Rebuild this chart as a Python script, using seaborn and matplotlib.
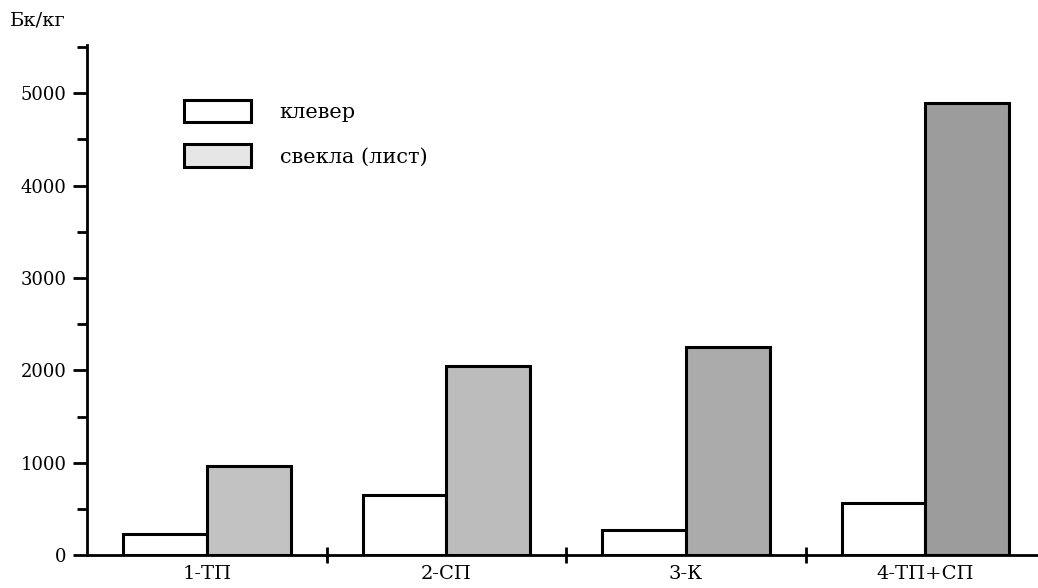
import seaborn as sns
import pandas as pd
import matplotlib.pyplot as plt
from matplotlib.ticker import MultipleLocator, FixedLocator

# data
sites = ["1-ТП", "2-СП", "3-К", "4-ТП+СП"]
series = ["клевер", "свекла (лист)"]
clover = [230, 650, 270, 560]
beet_leaf = [960, 2050, 2250, 4890]

df = pd.DataFrame({
    "site": sites * 2,
    "crop": [series[0]] * len(sites) + [series[1]] * len(sites),
    "value": clover + beet_leaf,
})

sns.set_style("ticks", {"axes.edgecolor": "black", "xtick.color": "black",
                        "ytick.color": "black", "text.color": "black"})
plt.rcParams['font.family'] = ['DejaVu Serif', 'Liberation Serif']

fig = plt.figure(figsize=(10.38, 5.88), dpi=100)
ax = fig.add_axes([0.084, 0.056, 0.916, 0.867])

sns.barplot(data=df, x="site", y="value", hue="crop", order=sites, hue_order=series,
            palette=["white", "#b0b0b0"], width=0.7, gap=0, edgecolor="black",
            linewidth=2.2, saturation=1, ax=ax)

# the scan gets darker to the right
shades = ["#c2c2c2", "#bcbcbc", "#ababab", "#9c9c9c"]
for patch, c in zip(ax.patches[len(sites):2 * len(sites)], shades):
    patch.set_facecolor(c)

ax.set_xlim(-0.5, 3.47)
ax.set_ylim(0, 5520)
ax.set_xlabel("")
ax.set_ylabel("")

for s in ["top", "right"]:
    ax.spines[s].set_visible(False)
for s in ["left", "bottom"]:
    ax.spines[s].set_linewidth(2)

# y ticks
ax.yaxis.set_major_locator(MultipleLocator(1000))
ax.yaxis.set_minor_locator(MultipleLocator(500))
ax.tick_params(axis="y", which="major", length=10, width=2, labelsize=13, pad=5)
ax.tick_params(axis="y", which="minor", length=7, width=2)

# x: separators between groups, labels in the middle
ax.xaxis.set_major_locator(FixedLocator([0.5, 1.5, 2.5]))
ax.xaxis.set_minor_locator(FixedLocator(range(len(sites))))
ax.set_xticklabels([], minor=False)
ax.set_xticklabels(sites, minor=True)
ax.tick_params(axis="x", which="major", direction="inout", length=12, width=2)
ax.tick_params(axis="x", which="minor", length=0, labelsize=14, pad=7)

leg = ax.legend(loc="upper left", bbox_to_anchor=(0.082, 0.93), frameon=False,
                fontsize=15, handlelength=3.2, handleheight=1.3, handletextpad=1.4,
                labelspacing=1.05)
leg.legend_handles[1].set_facecolor("#e6e6e6")

fig.text(0.01, 0.965, "Бк/кг", fontsize=14, va="center", ha="left")

fig.savefig("out.png", dpi=100)
